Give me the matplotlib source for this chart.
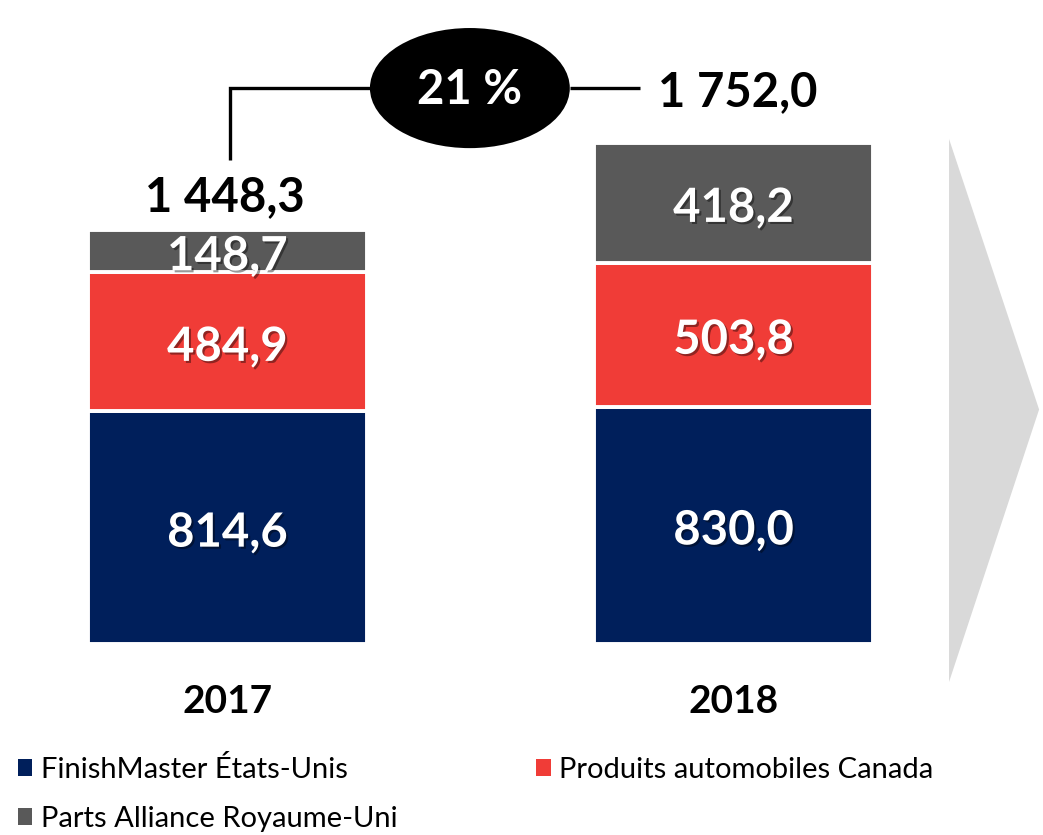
import matplotlib
matplotlib.use('Agg')
import matplotlib.pyplot as plt
import matplotlib.patheffects as pe
from matplotlib.patches import Ellipse, Polygon, Patch

# data
years = ['2017', '2018']
finishmaster = [814.6, 830.0]
produits = [484.9, 503.8]
parts_alliance = [148.7, 418.2]
totals = [1448.3, 1752.0]
growth = '21 %'

series_names = ['FinishMaster États-Unis', 'Produits automobiles Canada',
                'Parts Alliance Royaume-Uni']
colors = ['#001F5B', '#F03C37', '#595959']


def fmt(v):
    # french style: space thousands, comma decimal
    s = '{:,.1f}'.format(v)
    return s.replace(',', ' ').replace('.', ',')


def main():
    plt.rcParams['font.family'] = ['Lato', 'DejaVu Sans']

    fig = plt.figure(figsize=(10.43, 8.35), dpi=100)
    ax = fig.add_axes([0, 0, 1, 1])
    ax.set_xlim(-0.4496, 1.6117)
    ax.set_ylim(-668, 2252)
    ax.axis('off')

    x = list(range(len(years)))
    width = 0.551
    bottoms = [0.0] * len(years)
    shadow = [pe.withSimplePatchShadow(offset=(1.5, -1.5), shadow_rgbFace='black', alpha=0.4)]
    for vals, col in zip([finishmaster, produits, parts_alliance], colors):
        ax.bar(x, vals, width, bottom=bottoms, color=col, edgecolor='white', linewidth=2.8)
        for i, v in enumerate(vals):
            ax.text(x[i], bottoms[i] + v / 2 - 18, fmt(v), ha='center', va='center',
                    color='white', fontsize=34, fontweight='bold', path_effects=shadow)
        bottoms = [b + v for b, v in zip(bottoms, vals)]

    # year labels
    for i, yr in enumerate(years):
        ax.text(x[i], -200, yr, ha='center', va='center', fontsize=28,
                fontweight='bold', color='black')

    # total of 2017 above its bar
    ax.text(x[0] - 0.005, totals[0] + 115, fmt(totals[0]), ha='center', va='center',
            fontsize=34, fontweight='bold', color='black')

    # growth bracket
    ytop = totals[1] + 192
    ax.plot([x[0] + 0.005, x[0] + 0.005, 0.281], [totals[0] + 244, ytop, ytop],
            color='black', lw=2.4, solid_capstyle='butt', solid_joinstyle='miter')
    ax.plot([0.677, 0.815], [ytop, ytop], color='black', lw=2.4, solid_capstyle='butt')
    ax.add_patch(Ellipse((0.479, ytop), 0.395, 420, facecolor='black', edgecolor='none'))
    ax.text(0.479, ytop - 8, growth, ha='center', va='center', color='white',
            fontsize=34, fontweight='bold')
    ax.text(1.009, ytop - 14, fmt(totals[1]), ha='center', va='center',
            fontsize=34, fontweight='bold', color='black')

    # grey arrow on the right
    ax.add_patch(Polygon([(1.426, 1766), (1.604, 820), (1.426, -133)], closed=True,
                         facecolor='#D9D9D9', edgecolor='none', zorder=0))

    # legend
    handles = [Patch(facecolor=c, edgecolor='none') for c in colors]
    order = [0, 2, 1]
    fig.legend([handles[i] for i in order], [series_names[i] for i in order],
               loc='upper left', bbox_to_anchor=(0.0, 0.116), ncol=2, frameon=False,
               fontsize=21, handlelength=0.5, handleheight=0.5, handletextpad=0.3,
               columnspacing=4.75, labelspacing=0.8, borderaxespad=0.2)

    fig.savefig('out.png', dpi=100)


if __name__ == '__main__':
    main()
